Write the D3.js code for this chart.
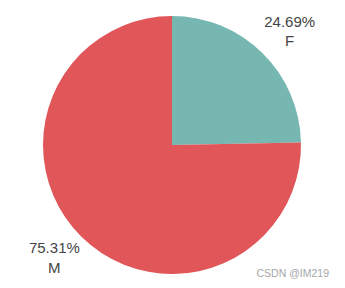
<!DOCTYPE html>
<html><head><meta charset="utf-8">
<script src="https://cdn.jsdelivr.net/npm/d3@7"></script>
<style>html,body{margin:0;padding:0;background:#fff;}</style>
</head><body>
<svg id="chart" width="345" height="288"></svg>
<script>
const categories = ["F", "M"];
const values = [24.69, 75.31];
const colors = ["#76b7b2", "#e15759"];
const watermark = "CSDN @IM219";

const svg = d3.select("#chart");
const cx = 172, cy = 145, r = 129, labelR = 168;
const g = svg.append("g").attr("transform", `translate(${cx},${cy})`);
const data = categories.map((c, i) => ({cat: c, val: values[i], color: colors[i]}));
const pie = d3.pie().value(d => d.val).sort(null);
const arcs = pie(data);
const arc = d3.arc().innerRadius(0).outerRadius(r);
const labelArc = d3.arc().innerRadius(labelR).outerRadius(labelR);

g.selectAll("path").data(arcs).enter().append("path")
  .attr("d", arc).attr("fill", d => d.data.color);

const lab = g.selectAll("text.lab").data(arcs).enter().append("text")
  .attr("class", "lab")
  .attr("font-family", "Liberation Sans, Arial, sans-serif")
  .attr("font-size", 15).attr("fill", "#444").attr("text-anchor", "middle")
  .attr("transform", d => { const c = labelArc.centroid(d); return `translate(${c[0]},${c[1]})`; });
lab.append("tspan").attr("x", 0)
  .attr("y", d => labelArc.centroid(d)[1] < 0 ? 2 : -12)
  .text(d => d.data.val.toFixed(2) + "%");
lab.append("tspan").attr("x", 0)
  .attr("y", d => labelArc.centroid(d)[1] < 0 ? 21 : 8)
  .text(d => d.data.cat);

svg.append("text").attr("x", 329).attr("y", 277).attr("text-anchor", "end")
  .attr("font-family", "Liberation Sans, Arial, sans-serif")
  .attr("font-size", 10.5).attr("fill", "#a6a6a6").text(watermark);
</script>
</body></html>
